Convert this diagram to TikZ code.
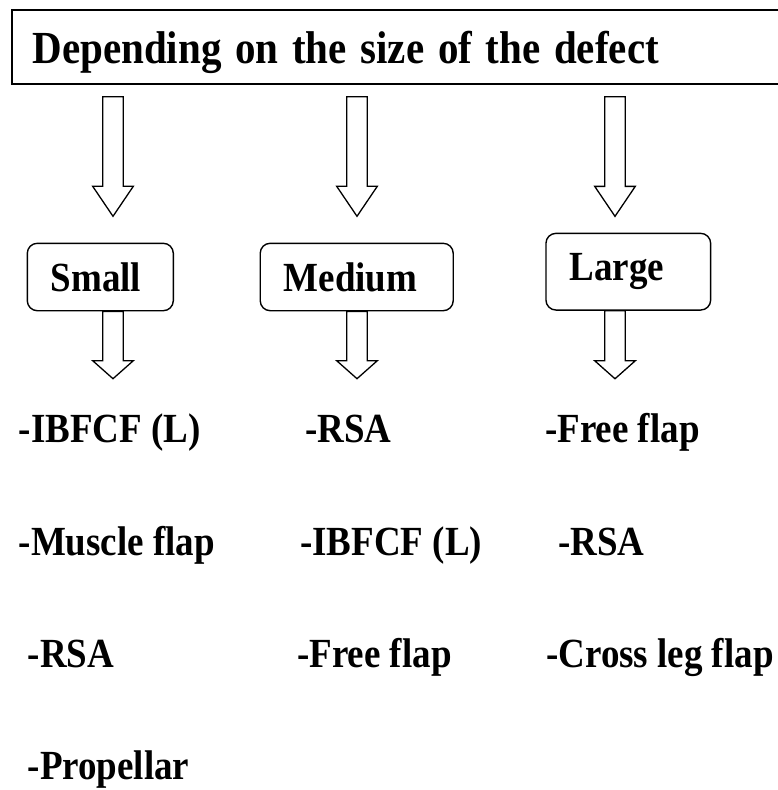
\documentclass[tikz,border=0pt]{standalone}
\usepackage{fontspec}
\setmainfont{Liberation Serif}
\usetikzlibrary{calc}

\newcommand{\itemfont}{\bfseries\fontsize{37}{44}\selectfont}
\newcommand{\headfont}{\bfseries\fontsize{41}{50}\selectfont}
% the printed letters are a little taller than they are wide
\newcommand{\tall}[1]{\scalebox{1}[1.12]{#1}}

\begin{document}
\begin{tikzpicture}[
  x=1pt, y=1pt,
  titlebox/.style={draw, line width=1.8pt, anchor=north west, align=left, minimum height=73.4pt, text width=760pt, inner xsep=20.7pt, text depth=0pt, font=\headfont},
  sizebox/.style={draw, rounded corners=10pt, line width=1.4pt, align=left, inner xsep=23.5pt, font=\itemfont},
  entry/.style={anchor=base west, inner sep=0pt, font=\itemfont},
  fatarrow/.style={line width=1.3pt, to path={let \p1=(\tikztostart), \p2=(\tikztotarget) in
    (\x1-10.3pt,\y1) -- (\x1-10.3pt,\y2+#1) -- (\x1-20.3pt,\y2+#1) -- (\x1,\y2)
    -- (\x1+20.3pt,\y2+#1) -- (\x1+10.3pt,\y2+#1) -- (\x1+10.3pt,\y1) -- cycle}}
]
\useasboundingbox (0,0) rectangle (778,-790);

\node[titlebox] (title) at (11,-9.3) {\tall{Depending on the size of the defect}};

% arrow columns
\coordinate (colS) at (113,0);
\coordinate (colM) at (357,0);
\coordinate (colL) at (615,0);

\node[sizebox, minimum height=67.4pt, text width=99pt] (small) at (100.3,-277) {\tall{Small}};
\node[sizebox, minimum height=67.4pt, text width=146pt] (medium) at (356.7,-277) {\tall{Medium}};
\node[sizebox, minimum height=76.7pt, text width=117.7pt] (large) at (628.3,-271.7) {\tall{Large}};

\draw[fatarrow=30pt] ([yshift=-12.3pt]title.south -| colS) to ([yshift=26.3pt]small.north -| colS);
\draw[fatarrow=30pt] ([yshift=-12.3pt]title.south -| colM) to ([yshift=26.3pt]medium.north -| colM);
\draw[fatarrow=30pt] ([yshift=-12.3pt]title.south -| colL) to ([yshift=16.3pt]large.north -| colL);

\draw[fatarrow=18pt] (small.south -| colS) to ([yshift=-67.3pt]small.south -| colS);
\draw[fatarrow=18pt] (medium.south -| colM) to ([yshift=-67.3pt]medium.south -| colM);
\draw[fatarrow=18pt] (large.south -| colL) to ([yshift=-68pt]large.south -| colL);

% small
\node[entry] (s1) at (18.5,-442) {\tall{-IBFCF (L)}};
\node[entry] (s2) at (18.5,-555) {\tall{-Muscle flap}};
\node[entry] (s3) at (27.5,-667) {\tall{-RSA}};
\node[entry] (s4) at (27.5,-779) {\tall{-Propellar}};

% medium
\node[entry] (m1) at (305,-442) {\tall{-RSA}};
\node[entry] (m2) at (300,-555) {\tall{-IBFCF (L)}};
\node[entry] (m3) at (297,-667) {\tall{-Free flap}};

% large
\node[entry] (l1) at (545,-442) {\tall{-Free flap}};
\node[entry] (l2) at (558,-555) {\tall{-RSA}};
\node[entry] (l3) at (546,-667) {\tall{-Cross leg flap}};
\end{tikzpicture}
\end{document}
